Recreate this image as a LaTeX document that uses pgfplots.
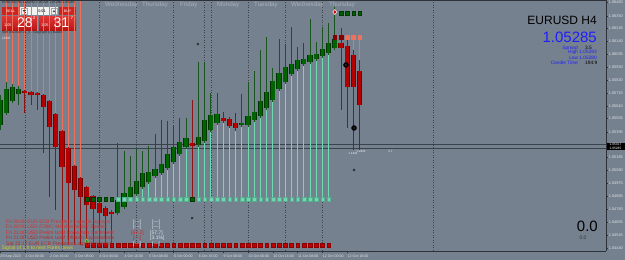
\documentclass[border=0pt]{standalone}
\usepackage{pgfplots}
\pgfplotsset{compat=1.18}
\usepackage{pgfplotstable}
\usepackage{fontspec}
\setmainfont{Liberation Sans}
\newcommand\fs[1]{\fontsize{#1}{#1}\selectfont}
\definecolor{bg}{RGB}{118,129,143}
\definecolor{axc}{RGB}{45,50,58}
\definecolor{gwick}{RGB}{25,85,30}
\definecolor{gfill}{RGB}{0,100,0}
\definecolor{gedge}{RGB}{0,55,0}
\definecolor{rwick}{RGB}{140,20,20}
\definecolor{rfill}{RGB}{180,0,0}
\definecolor{redge}{RGB}{115,0,0}
\definecolor{salmon}{RGB}{240,112,92}
\definecolor{teal2}{RGB}{110,218,178}
\definecolor{sqred}{RGB}{195,0,0}
\definecolor{sqgreen}{RGB}{0,95,0}
\definecolor{darkred2}{RGB}{135,0,0}
\definecolor{extred}{RGB}{160,40,40}
\definecolor{sep}{RGB}{60,66,76}
\definecolor{hline}{RGB}{58,66,76}
\definecolor{daylab}{RGB}{168,176,186}
\definecolor{ticklab}{RGB}{222,226,230}
\definecolor{infoblue}{RGB}{30,30,250}
\definecolor{btnred}{RGB}{205,35,35}
\definecolor{pr1}{RGB}{225,55,55}
\definecolor{pr2}{RGB}{185,20,20}
\definecolor{news1}{RGB}{205,50,50}
\definecolor{news3}{RGB}{235,30,30}
\definecolor{news4}{RGB}{180,40,40}
\definecolor{newsy}{RGB}{210,205,40}

\pgfplotstableread{
i o h l c
0 1.05453 1.05699 1.05411 1.05658
1 1.05551 1.05806 1.05535 1.05748
2 1.05650 1.05790 1.05633 1.05765
3 1.05707 1.05773 1.05617 1.05748
19 1.04729 1.05305 1.04713 1.04836
20 1.04778 1.05239 1.04762 1.04894
21 1.04844 1.05198 1.04828 1.04943
22 1.04885 1.05263 1.04869 1.04992
23 1.04943 1.05239 1.04926 1.05058
24 1.04984 1.05280 1.04968 1.05066
25 1.05033 1.05379 1.05017 1.05091
26 1.05058 1.05494 1.05042 1.05132
27 1.05099 1.05485 1.05083 1.05214
28 1.05148 1.05453 1.05132 1.05272
29 1.05214 1.05510 1.05198 1.05313
30 1.05272 1.05510 1.05255 1.05346
32 1.05288 1.05970 1.05272 1.05354
33 1.05321 1.05970 1.05305 1.05494
34 1.05411 1.05716 1.05395 1.05535
35 1.05469 1.05716 1.05453 1.05543
39 1.05453 1.05707 1.05436 1.05469
40 1.05453 1.05806 1.05436 1.05527
41 1.05494 1.05896 1.05477 1.05559
42 1.05527 1.06069 1.05510 1.05650
43 1.05592 1.06176 1.05576 1.05724
44 1.05658 1.05921 1.05642 1.05814
45 1.05748 1.06159 1.05732 1.05880
46 1.05806 1.06118 1.05790 1.05929
47 1.05872 1.06258 1.05855 1.05954
48 1.05913 1.06094 1.05896 1.05987
49 1.05954 1.06127 1.05938 1.05995
50 1.05970 1.06324 1.05954 1.06028
51 1.05995 1.06135 1.05979 1.06036
52 1.06020 1.06258 1.06003 1.06077
53 1.06044 1.06291 1.06028 1.06127
54 1.06085 1.06422 1.06069 1.06159
}\gC

\pgfplotstableread{
i o h l c
4 1.05732 1.05740 1.05551 1.05716
5 1.05724 1.05732 1.05617 1.05699
6 1.05716 1.05724 1.05576 1.05699
7 1.05699 1.05707 1.05222 1.05601
8 1.05650 1.05658 1.04861 1.05436
9 1.05543 1.05551 1.04754 1.05272
10 1.05403 1.05411 1.04672 1.05107
11 1.05263 1.05272 1.04507 1.04976
12 1.05116 1.05124 1.04491 1.04918
13 1.05017 1.05025 1.04466 1.04861
14 1.04943 1.04951 1.04507 1.04795
15 1.04869 1.04877 1.04548 1.04762
16 1.04811 1.04820 1.04631 1.04729
17 1.04770 1.04787 1.04524 1.04704
18 1.04737 1.04754 1.04589 1.04721
31 1.05305 1.05658 1.04844 1.05280
36 1.05510 1.05559 1.05469 1.05485
37 1.05502 1.05518 1.05428 1.05444
38 1.05469 1.05551 1.05403 1.05428
55 1.06127 1.06250 1.05576 1.06085
56 1.06102 1.06151 1.05428 1.05765
57 1.06028 1.06069 1.05247 1.05765
58 1.05896 1.05987 1.05247 1.05617
}\rC

% salmon lines from top of chart down to the high (i1..i13)
\pgfplotstableread{
i y
1 1.05806
2 1.05790
3 1.05773
4 1.05740
5 1.05732
6 1.05724
7 1.05707
8 1.05658
9 1.05551
10 1.05411
11 1.05272
12 1.05124
13 1.05025
}\salm

% red indicator lines: body bottom down to level 1.04466
\pgfplotstableread{
i y
10 1.05107
11 1.04976
12 1.04918
13 1.04861
14 1.04795
15 1.04762
16 1.04729
17 1.04704
18 1.04721
}\rext

% teal indicator lines: level 1.04844 up to body bottom
\pgfplotstableread{
i y
22 1.04885
23 1.04943
24 1.04984
25 1.05033
26 1.05058
27 1.05099
28 1.05148
29 1.05214
30 1.05272
32 1.05288
33 1.05321
34 1.05411
35 1.05469
36 1.05485
37 1.05444
38 1.05428
39 1.05453
40 1.05453
41 1.05494
42 1.05527
43 1.05592
44 1.05658
45 1.05748
46 1.05806
47 1.05872
48 1.05913
49 1.05954
50 1.05970
51 1.05995
52 1.06020
53 1.06044
}\tealL

% salmon lines from level 1.06176 down to the open (i56..i58)
\pgfplotstableread{
i y
56 1.06102
57 1.06028
58 1.05896
}\stop

\begin{document}
\begin{tikzpicture}
\fill[bg] (0pt,0pt) rectangle (625pt,-260pt);
\useasboundingbox (0pt,0pt) rectangle (625pt,-260pt);

% one-click panel boxes (under the indicator lines)
\fill[btnred] (2pt,-7pt) rectangle (19pt,-15pt);
\fill[white!90!gray] (20pt,-7pt) rectangle (58pt,-15pt);
\fill[btnred] (59pt,-7pt) rectangle (76pt,-15pt);
\shade[top color=pr1, bottom color=pr2] (2pt,-16pt) rectangle (38pt,-30pt);
\shade[top color=pr1, bottom color=pr2] (39pt,-16pt) rectangle (76pt,-30pt);
\draw[gray!70, line width=0.3pt] (21pt,-8pt) rectangle (27pt,-14pt);
\draw[gray!70, line width=0.3pt] (51pt,-8pt) rectangle (57pt,-14pt);

\begin{axis}[
  at={(0pt,0pt)}, anchor=north west,
  scale only axis, width=606pt, height=251pt,
  xmin=0, xmax=97.74, ymin=1.04417, ymax=1.0648,
  axis x line*=bottom, axis y line*=right,
  axis line style={draw=axc, line width=0.8pt},
  tick style={draw=axc, line width=0.4pt},
  major tick length=2pt, tick align=outside,
  xtick={0,4,8,12,16,20,24,28,32,36,40,44,48,52,56},
  xticklabels={29 Sep 2023,2 Oct 00:00,2 Oct 16:00,3 Oct 08:00,4 Oct 00:00,4 Oct 16:00,5 Oct 08:00,6 Oct 00:00,6 Oct 16:00,9 Oct 08:00,10 Oct 00:00,10 Oct 16:00,11 Oct 08:00,12 Oct 00:00,12 Oct 16:00},
  xticklabel style={font=\fs{3.6}, text=ticklab, anchor=north west, inner sep=0pt, yshift=-1.8pt, xshift=0.3pt},
  ytick={1.0444,1.04545,1.04655,1.0476,1.04865,1.04975,1.0508,1.05185,1.05395,1.05505,1.0561,1.05715,1.0582,1.0593,1.06035,1.0614,1.06245,1.0635,1.0646},
  yticklabels={1.04440,1.04545,1.04655,1.04760,1.04865,1.04975,1.05080,1.05185,1.05395,1.05505,1.05610,1.05715,1.05820,1.05930,1.06035,1.06140,1.06245,1.06350,1.06460},
  yticklabel style={font=\fs{3.9}, text=ticklab, anchor=west, inner sep=0pt, xshift=0.6pt},
  scaled y ticks=false,
  unbounded coords=jump,
]
% day separators
\addplot[sep, line width=0.5pt, dash pattern=on 1pt off 1.5pt] coordinates {
 (4,1.0440) (4,1.0650) (4,nan)
 (10,1.0440) (10,1.0650) (10,nan)
 (16,1.0440) (16,1.0650) (16,nan)
 (22,1.0440) (22,1.0650) (22,nan)
 (28,1.0440) (28,1.0650) (28,nan)
 (32.9,1.0440) (32.9,1.0650) (32.9,nan)
 (34,1.0440) (34,1.0650) (34,nan)
 (40,1.0440) (40,1.0650) (40,nan)
 (46,1.0440) (46,1.0650) (46,nan)
 (52,1.0440) (52,1.0650) (52,nan)
 (69.84,1.0440) (69.84,1.0650)};
% bid / ask lines
\addplot[hline, line width=0.7pt] coordinates {(0,1.05296) (97.74,1.05296)};
\addplot[hline, line width=0.7pt] coordinates {(0,1.05263) (97.74,1.05263)};

% indicator lines
\addplot[draw=none, mark=none, error bars/.cd, y dir=plus, y explicit, error mark=none,
  error bar style={draw=salmon, line width=0.9pt}]
  table[x=i, y=y, y error plus expr={0.02}] {\salm};
\addplot[draw=none, mark=none, error bars/.cd, y dir=minus, y explicit, error mark=none,
  error bar style={draw=extred, line width=0.9pt}]
  table[x=i, y=y, y error minus expr={\thisrow{y}-1.04466}] {\rext};
\addplot[draw=none, mark=none, error bars/.cd, y dir=minus, y explicit, error mark=none,
  error bar style={draw=teal2, line width=0.9pt}]
  table[x=i, y=y, y error minus expr={\thisrow{y}-1.04844}] {\tealL};
\addplot[draw=none, mark=none, error bars/.cd, y dir=plus, y explicit, error mark=none,
  error bar style={draw=salmon, line width=0.9pt}]
  table[x=i, y=y, y error plus expr={1.06176-\thisrow{y}}] {\stop};

% wicks
\addplot[draw=none, mark=none, error bars/.cd, y dir=plus, y explicit, error mark=none,
  error bar style={draw=gwick, line width=0.9pt}]
  table[x=i, y=l, y error plus expr={\thisrow{h}-\thisrow{l}}] {\gC};
\addplot[draw=none, mark=none, error bars/.cd, y dir=plus, y explicit, error mark=none,
  error bar style={draw=rwick, line width=0.9pt}]
  table[x=i, y=l, y error plus expr={\thisrow{h}-\thisrow{l}}] {\rC};
% bodies
\addplot[draw=none, mark=none, error bars/.cd, y dir=plus, y explicit, error mark=none,
  error bar style={draw=gedge, line width=5.2pt}]
  table[x=i, y=o, y error plus expr={\thisrow{c}-\thisrow{o}}] {\gC};
\addplot[draw=none, mark=none, error bars/.cd, y dir=plus, y explicit, error mark=none,
  error bar style={draw=gfill, line width=3.6pt}]
  table[x=i, y=o, y error plus expr={\thisrow{c}-\thisrow{o}}] {\gC};
\addplot[draw=none, mark=none, error bars/.cd, y dir=plus, y explicit, error mark=none,
  error bar style={draw=redge, line width=5.2pt}]
  table[x=i, y=c, y error plus expr={\thisrow{o}-\thisrow{c}}] {\rC};
\addplot[draw=none, mark=none, error bars/.cd, y dir=plus, y explicit, error mark=none,
  error bar style={draw=rfill, line width=3.6pt}]
  table[x=i, y=c, y error plus expr={\thisrow{o}-\thisrow{c}}] {\rC};

% square dots
\addplot[only marks, mark=square*, mark size=1.9pt, mark options={fill=sqred, draw=sqred!70!black, line width=0.3pt}] coordinates {
(14,1.04466) (15,1.04466) (16,1.04466) (17,1.04466) (18,1.04466) (19,1.04466) (20,1.04466) (21,1.04466) (22,1.04466) (23,1.04466)
(24,1.04466) (25,1.04466) (26,1.04466) (27,1.04466) (28,1.04466) (29,1.04466) (30,1.04466) (31,1.04466) (32,1.04466) (33,1.04466)
(34,1.04466) (35,1.04466) (36,1.04466) (37,1.04466) (38,1.04466) (39,1.04466) (40,1.04466) (41,1.04466) (42,1.04466) (43,1.04466)
(44,1.04466) (45,1.04466) (46,1.04466) (47,1.04466) (48,1.04466) (49,1.04466) (50,1.04466) (51,1.04466) (52,1.04466) (53,1.04466)};
\addplot[only marks, mark=square*, mark size=1.8pt, mark options={fill=teal2, draw=teal2!80!black, line width=0.2pt}] coordinates {
(19,1.04844) (20,1.04844) (21,1.04844) (22,1.04844) (23,1.04844) (24,1.04844) (25,1.04844) (26,1.04844) (27,1.04844) (28,1.04844)
(29,1.04844) (30,1.04844) (32,1.04844) (33,1.04844) (34,1.04844) (35,1.04844) (36,1.04844) (37,1.04844) (38,1.04844) (39,1.04844)
(40,1.04844) (41,1.04844) (42,1.04844) (43,1.04844) (44,1.04844) (45,1.04844) (46,1.04844) (47,1.04844) (48,1.04844) (49,1.04844)
(50,1.04844) (51,1.04844) (52,1.04844) (53,1.04844)};
\addplot[only marks, mark=square*, mark size=1.8pt, mark options={fill=sqgreen, draw=sqgreen!60!black, line width=0.2pt}] coordinates {
(14,1.04844) (15,1.04844) (16,1.04844) (17,1.04844) (18,1.04844) (31,1.04844)
(55,1.06373) (56,1.06373) (57,1.06373) (58,1.06373)};
\addplot[only marks, mark=square*, mark size=1.8pt, mark options={fill=darkred2, draw=darkred2}] coordinates {
(54,1.06176) (55,1.06176)};
\addplot[only marks, mark=square*, mark size=1.8pt, mark options={fill=salmon, draw=salmon}] coordinates {
(56,1.06176) (57,1.06176) (58,1.06176)};

% signal markers
\addplot[only marks, mark=x, mark size=1.4pt, mark options={draw=black!80, line width=0.8pt}] coordinates {
(31.9,1.06118) (57.1,1.05083) (31.0,1.04688)};
\addplot[only marks, mark=*, mark size=2.5pt, mark options={fill=black, draw=black}] coordinates {
(55.8,1.05946) (57.1,1.05428)};
\addplot[only marks, mark=*, mark size=1.0pt, mark options={fill=pink!80!red, draw=none}] coordinates {(55.8,1.05946)};
\addplot[only marks, mark=*, mark size=1.0pt, mark options={fill=white, draw=none}] coordinates {(57.1,1.05428)};
\addplot[only marks, mark=diamond*, mark size=2.6pt, mark options={fill=red!80!black, draw=white, line width=0.5pt}] coordinates {(54,1.06381)};
\addplot[only marks, mark=triangle*, mark size=2.2pt, mark options={fill=green!55!black, draw=yellow!80!black, line width=0.4pt}] coordinates {(14,1.04499)};
\end{axis}

% top border
\draw[axc, line width=0.8pt] (0pt,-0.4pt) -- (606pt,-0.4pt);

% day labels
\begin{scope}[every node/.style={inner sep=0pt, anchor=west, text=daylab, font=\fs{6.2}}]
\node at (105pt,-4.5pt) {Wednesday};
\node at (142pt,-4.5pt) {Thursday};
\node at (180pt,-4.5pt) {Friday};
\node at (217pt,-4.5pt) {Monday};
\node at (254pt,-4.5pt) {Tuesday};
\node at (291pt,-4.5pt) {Wednesday};
\node at (329pt,-4.5pt) {Thursday};
\end{scope}

% one-click panel texts
\node[inner sep=0pt, anchor=west, font=\fs{3.4}, text=black!85] at (2pt,-2.6pt) {EURUSD,H4 1.05282 1.05293 1.05280 1.05285};
\node[inner sep=0pt, font=\fs{3.6}, text=white] at (10.5pt,-11pt) {SELL};
\node[inner sep=0pt, font=\fs{3.8}, text=black] at (42pt,-11pt) {0.01};
\fill[black!70] (22.6pt,-10pt) -- (25.4pt,-10pt) -- (24pt,-12pt) -- cycle;
\fill[black!70] (52.6pt,-12pt) -- (55.4pt,-12pt) -- (54pt,-10pt) -- cycle;
\node[inner sep=0pt, font=\fs{3.6}, text=white] at (67.5pt,-11pt) {BUY};
\node[inner sep=0pt, anchor=west, font=\fs{3.8}, text=white] at (4pt,-25pt) {1.05};
\node[inner sep=0pt, font=\fs{14}, text=white] at (25pt,-22.8pt) {28};
\node[inner sep=0pt, font=\fs{4.6}, text=white] at (34.2pt,-18pt) {2};
\node[inner sep=0pt, anchor=west, font=\fs{3.8}, text=white] at (41pt,-25pt) {1.05};
\node[inner sep=0pt, font=\fs{14}, text=white] at (61.5pt,-22.8pt) {31};
\node[inner sep=0pt, font=\fs{4.6}, text=white] at (72pt,-18pt) {7};
\node[inner sep=0pt, anchor=west, font=\fs{3.3}, text=black!85] at (2pt,-32.5pt) {SMI Direction v1\_3 - Copyright (c) Bando};
\node[inner sep=0pt, anchor=west, font=\fs{3.2}, text=white] at (2pt,-38.5pt) {120.0};

% info block
\node[inner sep=0pt, anchor=east, font=\fs{12}, text=black] at (597pt,-20pt) {EURUSD H4};
\node[inner sep=0pt, anchor=east, font=\fs{15}, text=infoblue] at (597pt,-37.5pt) {1.05285};
\begin{scope}[every node/.style={inner sep=0pt, font=\fs{4.8}}]
\node[anchor=east, text=infoblue] at (578pt,-47.8pt) {Spread};
\node[anchor=west, text=black] at (585pt,-47.8pt) {3.5};
\node[anchor=east, text=infoblue] at (597pt,-52.5pt) {High 1.05293};
\node[anchor=east, text=infoblue] at (597pt,-57.5pt) {Low 1.05280};
\node[anchor=east, text=infoblue] at (578pt,-63.2pt) {Candle Time};
\node[anchor=west, text=black] at (585pt,-63.2pt) {194:9};
\end{scope}

% bottom-right
\node[inner sep=0pt, anchor=east, font=\fs{15}, text=black] at (598pt,-226pt) {0.0};
\node[inner sep=0pt, font=\fs{5}, text=black!80] at (583pt,-237.5pt) {0.0};

% current price box
\fill[black] (607pt,-142.6pt) rectangle (625pt,-150.4pt);
\node[inner sep=0pt, font=\fs{3.2}, text=white] at (615.5pt,-144.6pt) {1.05317};
\node[inner sep=0pt, font=\fs{3.2}, text=white] at (615.5pt,-148.4pt) {1.05285};

% small labels near last candles
\node[inner sep=0pt, font=\fs{3}, text=white!90!gray] at (353pt,-153pt) {1.1421};
\node[inner sep=0pt, font=\fs{3}, text=white!90!gray] at (361pt,-151pt) {1.1822};
\node[inner sep=0pt, font=\fs{3}, text=white!90!gray] at (390.5pt,-151pt) {2.7};

% news block
\begin{scope}[every node/.style={inner sep=0pt, anchor=west, font=\fs{5}}]
\node[text=news1] at (6pt,-222pt) {Fri 20:00 EUR ECB President Lagarde Speaks};
\node[text=news1] at (6pt,-227.5pt) {Fri 20:00 USD FOMC Member Waller Speaks};
\node[text=news3] at (6pt,-233pt) {Fri 21:00 USD Prelim UoM Consumer Sentiment};
\node[text=news4] at (6pt,-238.5pt) {Fri 21:00 USD Prelim UoM Inflation Expectations};
\node[text=news4] at (6pt,-244pt) {Sat 22:12 EUR ECB President Lagarde Speaks};
\node[text=newsy] at (1.5pt,-248.5pt) {Signal of 1 h to next Forex news};
\node[text=ticklab] at (133pt,-222pt) {[---]};
\node[text=ticklab] at (152pt,-222pt) {[---]};
\node[text=ticklab] at (133pt,-227.5pt) {[---]};
\node[text=ticklab] at (152pt,-227.5pt) {[---]};
\node[text=news3] at (131pt,-233pt) {[67.2]};
\node[text=ticklab] at (150pt,-233pt) {[57.7]};
\node[text=news4] at (133pt,-238.5pt) {[---]};
\node[text=ticklab] at (150pt,-238.5pt) {[3.1\%]};
\node[text=ticklab] at (133pt,-244pt) {[---]};
\node[text=ticklab] at (152pt,-244pt) {[---]};
\end{scope}
\end{tikzpicture}
\end{document}
